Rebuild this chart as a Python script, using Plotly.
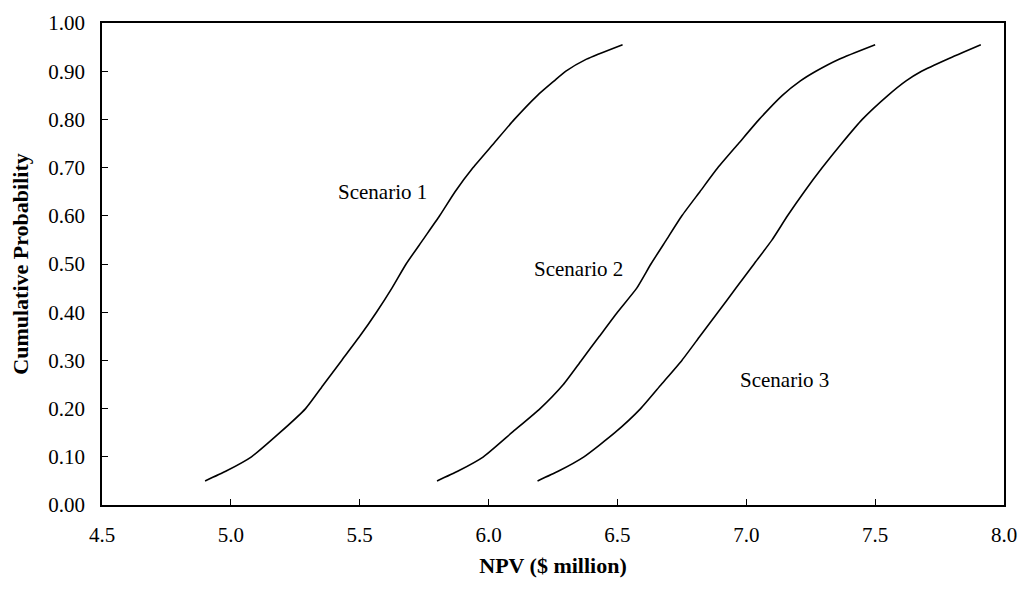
import plotly.graph_objects as go

prob = [0.05, 0.07, 0.10, 0.15, 0.20, 0.25, 0.30, 0.35, 0.40, 0.45, 0.50,
        0.55, 0.60, 0.65, 0.70, 0.75, 0.80, 0.85, 0.88, 0.90, 0.925, 0.955]

npv_s1 = [4.90, 4.98, 5.08, 5.19, 5.29, 5.36, 5.43, 5.50, 5.565, 5.625, 5.68,
          5.745, 5.81, 5.87, 5.94, 6.02, 6.10, 6.19, 6.255, 6.30, 6.38, 6.52]
npv_s2 = [5.80, 5.88, 5.98, 6.09, 6.20, 6.29, 6.36, 6.43, 6.50, 6.575, 6.63,
          6.69, 6.75, 6.82, 6.89, 6.97, 7.05, 7.14, 7.21, 7.27, 7.36, 7.50]
npv_s3 = [6.19, 6.27, 6.37, 6.49, 6.59, 6.67, 6.75, 6.82, 6.89, 6.96, 7.03,
          7.10, 7.16, 7.225, 7.295, 7.37, 7.45, 7.55, 7.62, 7.68, 7.78, 7.91]

labels = ["Scenario 1", "Scenario 2", "Scenario 3"]
label_x = [5.59, 6.35, 7.15]
label_y = [0.65, 0.49, 0.26]

x_ticks = [4.5, 5.0, 5.5, 6.0, 6.5, 7.0, 7.5, 8.0]
y_ticks = [0.0, 0.1, 0.2, 0.3, 0.4, 0.5, 0.6, 0.7, 0.8, 0.9, 1.0]

font_family = "Liberation Serif"

fig = go.Figure()
for xs, name in [(npv_s1, labels[0]), (npv_s2, labels[1]), (npv_s3, labels[2])]:
    fig.add_trace(go.Scatter(x=xs, y=prob, mode="lines", name=name,
                             line=dict(color="black", width=1.6, shape="spline",
                                       smoothing=0.5),
                             showlegend=False))

for t, lx, ly in zip(labels, label_x, label_y):
    fig.add_annotation(x=lx, y=ly, text=t, showarrow=False,
                       font=dict(family=font_family, size=21, color="black"))

fig.update_layout(
    width=1018, height=594,
    margin=dict(l=102, r=14, t=23, b=89),
    paper_bgcolor="white", plot_bgcolor="white",
    font=dict(family=font_family, size=21, color="black"),
)
fig.update_xaxes(
    range=[4.5, 8.0], tickvals=x_ticks, ticktext=[f"{v:.1f}" for v in x_ticks],
    showgrid=False, zeroline=False, showline=True, linecolor="black",
    linewidth=1.5, mirror=True, ticks="inside", ticklen=6, tickcolor="black",
    ticklabelstandoff=10, automargin=False,
    title=dict(text="<b>NPV ($ million)</b>", standoff=12,
               font=dict(family=font_family, size=22)),
)
fig.update_yaxes(
    range=[0, 1.0], tickvals=y_ticks, ticktext=[f"{v:.2f}" for v in y_ticks],
    showgrid=False, zeroline=False, showline=True, linecolor="black",
    linewidth=1.5, mirror=True, ticks="inside", ticklen=6, tickcolor="black",
    ticklabelstandoff=11, automargin=False,
    title=dict(text="<b>Cumulative Probability</b>", standoff=14,
               font=dict(family=font_family, size=22)),
)

# remove the default page margin so the figure fills the window exactly
fig.write_html("out.html",
               config={"displayModeBar": False},
               post_script="document.body.style.margin='0';document.body.style.overflow='hidden';")
